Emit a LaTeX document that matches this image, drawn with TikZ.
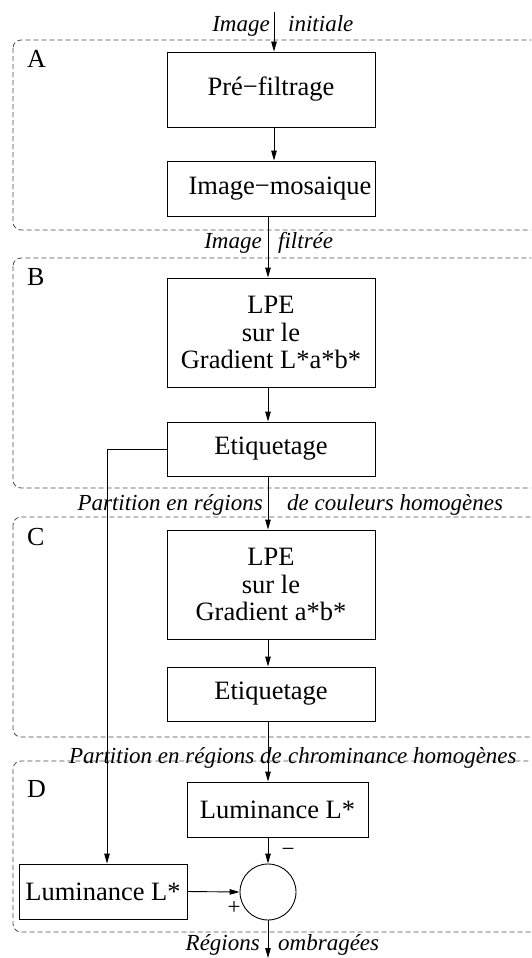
\documentclass[tikz,border=0pt]{standalone}
\usepackage{fontspec}
\setmainfont{Liberation Serif}
\usetikzlibrary{arrows.meta,calc}
\begin{document}
\begin{tikzpicture}[x=1pt,y=-1pt,
  blk/.style={draw, line width=0.9pt, inner sep=0pt, align=center, font=\fontsize{26.5}{27.5}\selectfont},
  grp/.style={draw=black!70, dash pattern=on 5pt off 3pt, rounded corners=8pt, line width=0.8pt},
  lbl/.style={font=\fontsize{23}{23}\selectfont\itshape, inner sep=0pt},
  arr/.style={-{Triangle[length=10pt,width=5.5pt]}, line width=0.9pt},
  ln/.style={line width=0.9pt},
  grpname/.style={font=\fontsize{26}{26}\selectfont, inner sep=0pt, anchor=base west},
  sign/.style={font=\fontsize{23}{23}\selectfont, inner sep=0pt}]
\useasboundingbox (0,0) rectangle (531,958);
\clip (0,0) rectangle (531,958);
% groups
\draw[grp] (13,40) rectangle (545,230);
\draw[grp] (13,258) rectangle (545,488);
\draw[grp] (13,517) rectangle (545,737);
\draw[grp] (13,761) rectangle (545,932);
\node[grpname] (gA) at (27,67) {A};
\node[grpname] (gB) at (27,285) {B};
\node[grpname] (gC) at (27,545) {C};
\node[grpname] (gD) at (27,797) {D};
% blocks
\node[blk, minimum width=208pt, minimum height=75pt] (pre) at (271,89.5) {Pré−filtrage};
\node[blk, minimum width=208pt, minimum height=55pt] (mos) at (271,188.5) {\hspace*{18pt}Image−mosaique};
\node[blk, minimum width=208pt, minimum height=109pt] (lpe1) at (271,332.5) {LPE\\sur le\\Gradient L*a*b*};
\node[blk, minimum width=208pt, minimum height=54pt] (eti1) at (271,449) {Etiquetage};
\node[blk, minimum width=208pt, minimum height=109pt] (lpe2) at (271,584.5) {LPE\\sur le\\Gradient a*b*};
\node[blk, minimum width=208pt, minimum height=54pt] (eti2) at (271,694) {Etiquetage};
\node[blk, minimum width=181pt, minimum height=55pt] (lum1) at (277.5,809.5) {Luminance L*};
\node[blk, minimum width=168pt, minimum height=55pt] (lum2) at (103,891.5) {Luminance L*};
\node[draw, circle, line width=0.9pt, minimum size=56pt, inner sep=0pt] (sum) at (268,892) {};
% labels
\node[lbl, anchor=base east] (t1a) at (270,32) {Image};
\node[lbl, anchor=base west] (t1b) at (288,32) {initiale};
\node[lbl, anchor=base east] (t2a) at (262,248) {Image};
\node[lbl, anchor=base west] (t2b) at (278,248) {filtrée};
\node[lbl, anchor=base east] (t3a) at (263,510) {Partition en régions};
\node[lbl, anchor=base west] (t3b) at (287,510) {de couleurs homogènes};
\node[lbl, anchor=base east] (t4a) at (282,763) {Partition en régions de};
\node[lbl, anchor=base west] (t4b) at (288,763) {chrominance homogènes};
\node[lbl, anchor=base east] (t5a) at (260,950) {Régions};
\node[lbl, anchor=base west] (t5b) at (278,950) {ombragées};
\node[sign] (minus) at (288,852) {−};
\node[sign] (plus) at (234,908) {+};
% connectors
\coordinate (in) at (274,12);
\coordinate (out) at (268,958);
\coordinate (bend) at (107,449);
\draw[arr] (in) -- ([xshift=3pt]pre.north);
\draw[arr] ([xshift=3pt]pre.south) -- ([xshift=3pt]mos.north);
\draw[arr] ([xshift=-3pt]mos.south) -- ([xshift=-3pt]lpe1.north);
\draw[arr] ([xshift=-3pt]lpe1.south) -- ([xshift=-3pt]eti1.north);
\draw[arr] ([xshift=-3pt]eti1.south) -- ([xshift=-3pt]lpe2.north);
\draw[arr] ([xshift=-3pt]lpe2.south) -- ([xshift=-3pt]eti2.north);
\draw[arr] ([xshift=-3pt]eti2.south) -- (lum1.north -| sum.north);
\draw[arr] (lum1.south -| sum.north) -- (sum.north);
\draw[arr] (eti1.west) -- (bend) -- (bend |- lum2.north);
\draw[arr] (lum2.east) -- (sum.west);
\draw[arr] (sum.south) -- (out);
\end{tikzpicture}
\end{document}
